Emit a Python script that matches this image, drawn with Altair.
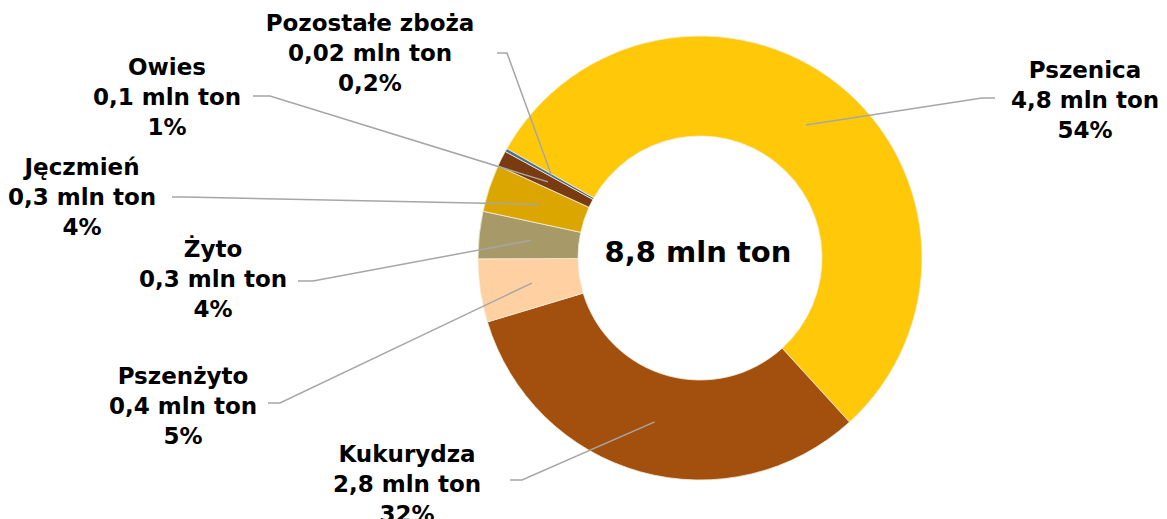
import math
import altair as alt
import pandas as pd

# ---- data ----
names = ["Pszenica", "Kukurydza", "Pszenżyto", "Żyto", "Jęczmień", "Owies", "Pozostałe zboża"]
tons = [4.8, 2.8, 0.4, 0.3, 0.3, 0.1, 0.02]
tons_txt = ["4,8", "2,8", "0,4", "0,3", "0,3", "0,1", "0,02"]
pct_txt = ["54%", "32%", "5%", "4%", "4%", "1%", "0,2%"]
total_txt = "8,8 mln ton"

# ---- styles ----
colors = ["#FFC90A", "#A34F0E", "#FFD0A2", "#A89A68", "#DCA600", "#7B3B10", "#4A6B8E"]

# ---- layout (page coordinates) ----
W, H = 1151, 519
CX, CY = 700, 258
R_OUT, R_IN, R_LEAD = 222, 122, 170
START = math.radians(299.5)
lab_x = [1085, 407, 183, 213, 82, 167, 370]
lab_y = [71, 455, 377, 250, 168, 68, 24]   # centre of first text line
line_x0 = [995, 510, 268, 298, 172, 253, 497]
line_x1 = [982, 522, 280, 313, 185, 270, 507]
line_y = [98, 480, 403, 281, 197, 96, 53]

total = sum(tons)
rows, lead = [], []
cum = 0.0
for i, n in enumerate(names):
    mid = (cum + tons[i] / 2) / total
    cum += tons[i]
    a = START + 2 * math.pi * mid
    ex = CX + R_LEAD * math.sin(a)
    ey = CY - R_LEAD * math.cos(a)
    rows.append({"idx": i, "name": n, "val": tons[i],
                 "label": f"{n}\n{tons_txt[i]} mln ton\n{pct_txt[i]}",
                 "lx": lab_x[i], "ly": lab_y[i]})
    lead += [
        {"name": n, "k": 0, "px": line_x0[i], "py": line_y[i]},
        {"name": n, "k": 1, "px": line_x1[i], "py": line_y[i]},
        {"name": n, "k": 2, "px": ex, "py": ey},
    ]

df = pd.DataFrame(rows)
dl = pd.DataFrame(lead)

xs = alt.Scale(domain=[8, 8 + W], range=[0, W])
ys = alt.Scale(domain=[8, 8 + H], range=[0, H])
color = alt.Color("name:N", scale=alt.Scale(domain=names, range=colors), legend=None)

arcs = alt.Chart(df).mark_arc(radius=R_OUT, radius2=R_IN, stroke="#F4EEDC", strokeWidth=0.8).encode(
    theta=alt.Theta("val:Q", stack=True, scale=alt.Scale(range=[START, START + 2 * math.pi])),
    order=alt.Order("idx:Q"),
    color=color,
    x=alt.value(CX - 8),
    y=alt.value(CY - 8),
)

lines = alt.Chart(dl).mark_line(color="#A6A6A6", strokeWidth=1.5).encode(
    x=alt.X("px:Q", scale=xs, axis=None),
    y=alt.Y("py:Q", scale=ys, axis=None),
    detail="name:N",
    order="k:Q",
)

labels = alt.Chart(df).mark_text(
    font="DejaVu Sans", fontWeight="bold", fontSize=23, lineBreak="\n", lineHeight=30,
    align="center", baseline="middle", color="black",
).encode(
    x=alt.X("lx:Q", scale=xs, axis=None),
    y=alt.Y("ly:Q", scale=ys, axis=None),
    text="label:N",
)

center = alt.Chart(pd.DataFrame({"t": [total_txt]})).mark_text(
    font="DejaVu Sans", fontWeight="bold", fontSize=29, align="center", baseline="middle", color="black",
).encode(x=alt.value(698 - 8), y=alt.value(253 - 8), text="t:N")

chart = alt.layer(arcs, lines, labels, center).properties(
    width=W, height=H, padding=0, autosize=alt.AutoSizeParams(type="none"),
).configure_view(stroke=None)

chart.save("out.html", embed_options={"renderer": "svg", "actions": False})
